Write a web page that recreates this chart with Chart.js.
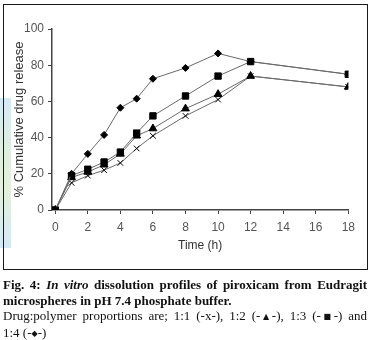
<!DOCTYPE html>
<html>
<head>
<meta charset="utf-8">
<script src="https://cdn.jsdelivr.net/npm/chart.js@4"></script>
<style>
  html, body { margin: 0; padding: 0; background: #fff; }
  body { width: 370px; height: 340px; position: relative; overflow: hidden; }
  #tint { position: absolute; left: 0; top: 98px; width: 11px; height: 150px;
          background: linear-gradient(#d6eaf6 0%, #dfeee0 35%, #e4f0dc 60%, #d4e9f6 100%); }
  #wrap { position: absolute; left: 0; top: 0; width: 370px; height: 270px; }
  #frame { position: absolute; left: 3px; top: 4px; width: 363px; height: 264px;
           border: 1.5px solid #1a1a1a; pointer-events: none; }
  #caption { position: absolute; left: 3px; top: 277px; width: 364px;
             font-family: "Liberation Serif", "DejaVu Serif", serif; font-size: 13px;
             line-height: 15.7px; color: #111; }
  .ln { white-space: nowrap; }
  .just { text-align: justify; text-align-last: justify; white-space: normal; }
  .b { font-weight: bold; }
  .sym { font-family: "DejaVu Sans", sans-serif; font-size: 8px; vertical-align: 1px; }
</style>
</head>
<body>
<div id="tint"></div>
<div id="wrap"><canvas id="c" width="370" height="270"></canvas></div>
<div id="frame"></div>
<div id="caption">
  <div class="ln just b">Fig. 4: <i>In vitro</i> dissolution profiles of piroxicam from Eudragit</div>
  <div class="ln b">microspheres in pH 7.4 phosphate buffer.</div>
  <div class="ln just">Drug:polymer proportions are; 1:1 (-x-), 1:2 (-<span class="sym">▲</span>-), 1:3 (-<span class="sym">■</span>-) and</div>
  <div class="ln">1:4 (-<span class="sym">◆</span>-)</div>
</div>
<script>
const timeHours = [0, 1, 2, 3, 4, 5, 6, 8, 10, 12, 18];
const ratio1to1 = [0, 15, 19, 22, 26, 34, 41, 52, 61, 74, 68];
const ratio1to2 = [0, 18, 21, 25, 31, 41, 45, 56, 64, 74, 68];
const ratio1to3 = [0, 19, 22.5, 26.5, 32, 42.5, 52, 63, 74, 82, 75];
const ratio1to4 = [0, 20, 31, 41.5, 56.5, 61.5, 72.5, 78.5, 86.5, 82, 75];
const xTickValues = [0, 2, 4, 6, 8, 10, 12, 14, 16, 18];
const yTickValues = [0, 20, 40, 60, 80, 100];
const seriesLabels = ['1:1', '1:2', '1:3', '1:4'];

const pts = arr => timeHours.map((t, i) => ({ x: t, y: arr[i] }));

function ds(label, arr, style, radius) {
  return {
    label, data: pts(arr),
    borderColor: '#6a6a6a', borderWidth: 1,
    pointStyle: style, pointRadius: radius,
    pointBackgroundColor: '#000', pointBorderColor: '#000', pointBorderWidth: 1,
    tension: 0, fill: false
  };
}

const tickFont = { family: '"Liberation Sans", Arial, sans-serif', size: 12 };

new Chart(document.getElementById('c'), {
  type: 'line',
  data: {
    datasets: [
      ds(seriesLabels[3], ratio1to4, 'rectRot', 3.5),
      ds(seriesLabels[2], ratio1to3, 'rect', 4.5),
      ds(seriesLabels[1], ratio1to2, 'triangle', 4.5),
      ds(seriesLabels[0], ratio1to1, 'crossRot', 4)
    ]
  },
  options: {
    responsive: false, animation: false,
    layout: { padding: { left: 0, right: 21.7, top: 29, bottom: 0 } },
    plugins: { legend: { display: false }, tooltip: { enabled: false } },
    scales: {
      x: {
        type: 'linear', min: -0.2, max: 18,
        afterBuildTicks: s => { s.ticks = xTickValues.map(v => ({ value: v })); },
        afterFit: s => { s.height = 60; },
        grid: { display: true, drawOnChartArea: false, drawTicks: true, tickLength: 4, color: '#444', lineWidth: 1 },
        border: { display: true, color: '#444', width: 1.5 },
        ticks: { color: '#555', font: tickFont, padding: 6, maxRotation: 0 },
        title: { display: true, text: 'Time (h)', color: '#333', font: tickFont, padding: { top: 0, bottom: 17 } }
      },
      y: {
        min: 0, max: 100,
        afterBuildTicks: s => { s.ticks = yTickValues.map(v => ({ value: v })); },
        afterFit: s => { s.width = 52; },
        grid: { display: true, drawOnChartArea: false, drawTicks: true, tickLength: 4, color: '#444', lineWidth: 1 },
        border: { display: true, color: '#444', width: 1.5 },
        ticks: { color: '#555', font: tickFont, padding: 4 },
        title: { display: true, text: '% Cumulative drug release', color: '#333',
                 font: { family: '"Liberation Sans", Arial, sans-serif', size: 13 }, padding: { top: 12, bottom: 0 } }
      }
    }
  }
});
</script>
</body>
</html>
